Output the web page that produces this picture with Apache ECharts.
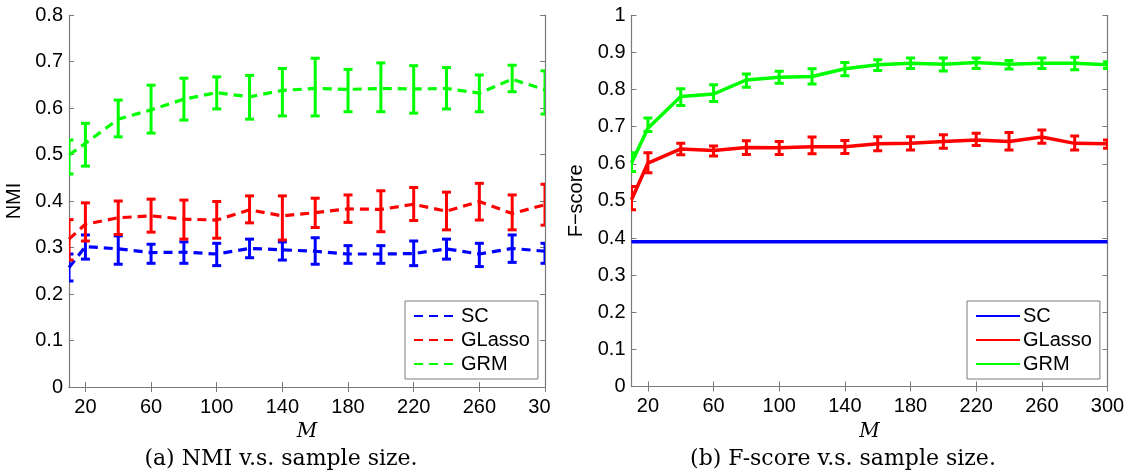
<!DOCTYPE html>
<html><head><meta charset="utf-8">
<script src="https://cdn.jsdelivr.net/npm/echarts@6/dist/echarts.min.js"></script>
<style>
html,body{margin:0;padding:0;background:#fff;}
#wrap{position:relative;width:1125px;height:474px;overflow:hidden;background:#fff;}
#left{position:absolute;left:0;top:0;width:551px;height:474px;}
#right{position:absolute;left:560px;top:0;width:565px;height:474px;}
</style></head><body>
<div id="wrap"><div id="left"></div><div id="right"></div></div>
<script>
// ---- data ----
const M_VALUES = [10, 20, 40, 60, 80, 100, 120, 140, 160, 180, 200, 220, 240, 260, 280, 300];
const X_TICKS = [20, 60, 100, 140, 180, 220, 260, 300];
const SERIES_NAMES = ['SC', 'GLasso', 'GRM'];

// (a) NMI
const NMI_SC_MEAN  = [0.257, 0.302, 0.297, 0.289, 0.290, 0.286, 0.298, 0.295, 0.292, 0.286, 0.286, 0.287, 0.297, 0.286, 0.298, 0.292];
const NMI_SC_LOW   = [0.228, 0.275, 0.264, 0.266, 0.266, 0.261, 0.278, 0.273, 0.264, 0.266, 0.266, 0.261, 0.275, 0.259, 0.268, 0.266];
const NMI_SC_HIGH  = [0.286, 0.327, 0.325, 0.307, 0.312, 0.309, 0.318, 0.312, 0.321, 0.304, 0.304, 0.314, 0.318, 0.309, 0.327, 0.309];
const NMI_GL_MEAN  = [0.318, 0.350, 0.364, 0.368, 0.361, 0.359, 0.381, 0.368, 0.375, 0.383, 0.382, 0.393, 0.378, 0.399, 0.373, 0.392];
const NMI_GL_LOW   = [0.273, 0.314, 0.328, 0.333, 0.318, 0.320, 0.353, 0.316, 0.343, 0.354, 0.334, 0.358, 0.338, 0.359, 0.338, 0.348];
const NMI_GL_HIGH  = [0.360, 0.396, 0.400, 0.404, 0.402, 0.399, 0.411, 0.411, 0.406, 0.413, 0.422, 0.429, 0.419, 0.438, 0.413, 0.436];
const NMI_GRM_MEAN = [0.499, 0.524, 0.576, 0.596, 0.619, 0.633, 0.624, 0.638, 0.642, 0.640, 0.642, 0.641, 0.642, 0.632, 0.662, 0.639];
const NMI_GRM_LOW  = [0.458, 0.475, 0.538, 0.546, 0.574, 0.598, 0.576, 0.583, 0.583, 0.592, 0.592, 0.589, 0.598, 0.592, 0.635, 0.587];
const NMI_GRM_HIGH = [0.531, 0.567, 0.617, 0.649, 0.664, 0.667, 0.670, 0.685, 0.707, 0.683, 0.697, 0.691, 0.687, 0.671, 0.692, 0.680];

// (b) F-score
const F_SC_MEAN   = [0.39, 0.39, 0.39, 0.39, 0.39, 0.39, 0.39, 0.39, 0.39, 0.39, 0.39, 0.39, 0.39, 0.39, 0.39, 0.39];
const F_GL_MEAN   = [0.503, 0.602, 0.640, 0.636, 0.644, 0.643, 0.646, 0.646, 0.654, 0.655, 0.660, 0.664, 0.660, 0.672, 0.655, 0.654];
const F_GL_LOW    = [0.476, 0.576, 0.624, 0.621, 0.625, 0.625, 0.627, 0.628, 0.635, 0.637, 0.642, 0.649, 0.637, 0.655, 0.637, 0.642];
const F_GL_HIGH   = [0.539, 0.630, 0.655, 0.648, 0.662, 0.660, 0.672, 0.663, 0.673, 0.673, 0.678, 0.682, 0.684, 0.691, 0.675, 0.664];
const F_GRM_MEAN  = [0.602, 0.696, 0.781, 0.788, 0.826, 0.833, 0.835, 0.856, 0.867, 0.871, 0.868, 0.873, 0.868, 0.871, 0.871, 0.867];
const F_GRM_LOW   = [0.579, 0.687, 0.757, 0.768, 0.806, 0.817, 0.815, 0.837, 0.851, 0.857, 0.850, 0.857, 0.855, 0.857, 0.853, 0.857];
const F_GRM_HIGH  = [0.630, 0.723, 0.802, 0.813, 0.842, 0.849, 0.856, 0.873, 0.880, 0.885, 0.885, 0.885, 0.878, 0.885, 0.887, 0.875];

const COLORS = ['#0000ff', '#ff0000', '#00ff00'];
const AXIS_GRAY = '#7a7a7a';
const SANS = "'Liberation Sans', Arial, sans-serif";
const SERIF = "'DejaVu Serif', serif";

function pairs(ys) { return M_VALUES.map((x, i) => [x, ys[i]]); }
function triples(lo, hi) { return M_VALUES.map((x, i) => [x, lo[i], hi[i]]); }

function errRender(capHalf, lw) {
  return function (params, api) {
    const x = api.value(0), lo = api.value(1), hi = api.value(2);
    const a = api.coord([x, lo]), b = api.coord([x, hi]);
    const style = { stroke: api.visual('color'), lineWidth: lw, fill: null };
    return {
      type: 'group',
      children: [
        { type: 'line', shape: { x1: a[0], y1: a[1], x2: b[0], y2: b[1] }, style: style },
        { type: 'line', shape: { x1: a[0] - capHalf, y1: a[1], x2: a[0] + capHalf, y2: a[1] }, style: style },
        { type: 'line', shape: { x1: b[0] - capHalf, y1: b[1], x2: b[0] + capHalf, y2: b[1] }, style: style }
      ]
    };
  };
}

function axes(yMax, yName, yNameGap) {
  const tick = { show: true, inside: true, length: 5, lineStyle: { color: AXIS_GRAY, width: 1 } };
  const line = { show: true, lineStyle: { color: AXIS_GRAY, width: 1.2 } };
  return {
    xAxis: [
      { type: 'value', min: 10, max: 300, position: 'bottom',
        axisLine: line, splitLine: { show: false },
        axisTick: Object.assign({ customValues: X_TICKS }, tick),
        axisLabel: { customValues: X_TICKS, fontSize: 20, fontFamily: SANS, color: '#000', margin: 10 },
        name: 'M', nameLocation: 'middle', nameGap: 26,
        nameTextStyle: { fontSize: 20, fontStyle: 'italic', fontFamily: SERIF, color: '#000' } },
      { type: 'value', min: 10, max: 300, position: 'top',
        axisLine: line, splitLine: { show: false },
        axisTick: Object.assign({ customValues: X_TICKS }, tick),
        axisLabel: { show: false } }
    ],
    yAxis: [
      { type: 'value', min: 0, max: yMax, interval: 0.1, position: 'left',
        axisLine: line, splitLine: { show: false }, axisTick: tick,
        axisLabel: { fontSize: 20, fontFamily: SANS, color: '#000', margin: 6 },
        name: yName, nameLocation: 'middle', nameGap: yNameGap, nameRotate: 90,
        nameTextStyle: { fontSize: 20, fontFamily: SANS, color: '#000' } },
      { type: 'value', min: 0, max: yMax, interval: 0.1, position: 'right',
        axisLine: line, splitLine: { show: false }, axisTick: tick,
        axisLabel: { show: false } }
    ]
  };
}

function legend(left) {
  return {
    data: SERIES_NAMES, orient: 'vertical', left: left, top: 301,
    itemWidth: 44, itemHeight: 14, itemGap: 4,
    padding: [5, 8, 5, 8], borderColor: AXIS_GRAY, borderWidth: 1, backgroundColor: '#fff',
    itemStyle: { opacity: 0 },
    textStyle: { fontSize: 20, fontFamily: SANS, color: '#000', padding: [0, 0, 0, -2] },
    selectedMode: false
  };
}

function caption(x, text) {
  return { type: 'text', x: x, y: 448, style: { text: text, fontSize: 22, fontFamily: SERIF, fill: '#000', align: 'center' } };
}

// ---- left chart (a) ----
const leftChart = echarts.init(document.getElementById('left'), null, { renderer: 'canvas' });
const la = axes(0.8, 'NMI', 40);
const dashed = [9, 6];
leftChart.setOption({
  animation: false,
  grid: { left: 69, top: 15, width: 476, height: 372, containLabel: false, outerBoundsMode: 'none' },
  xAxis: la.xAxis, yAxis: la.yAxis,
  legend: legend(405),
  graphic: [ caption(281, '(a) NMI v.s. sample size.') ],
  series: [
    { name: 'SC', type: 'line', data: pairs(NMI_SC_MEAN), symbol: 'none', color: COLORS[0], lineStyle: { width: 3.2, type: dashed, color: COLORS[0] }, z: 2 },
    { name: 'SC-err', type: 'custom', data: triples(NMI_SC_LOW, NMI_SC_HIGH), color: COLORS[0], renderItem: errRender(4.5, 3), encode: { x: 0, y: [1, 2] }, clip: true, z: 2 },
    { name: 'GLasso', type: 'line', data: pairs(NMI_GL_MEAN), symbol: 'none', color: COLORS[1], lineStyle: { width: 3.2, type: dashed, color: COLORS[1] }, z: 3 },
    { name: 'GLasso-err', type: 'custom', data: triples(NMI_GL_LOW, NMI_GL_HIGH), color: COLORS[1], renderItem: errRender(4.5, 3), encode: { x: 0, y: [1, 2] }, clip: true, z: 3 },
    { name: 'GRM', type: 'line', data: pairs(NMI_GRM_MEAN), symbol: 'none', color: COLORS[2], lineStyle: { width: 3.2, type: dashed, color: COLORS[2] }, z: 4 },
    { name: 'GRM-err', type: 'custom', data: triples(NMI_GRM_LOW, NMI_GRM_HIGH), color: COLORS[2], renderItem: errRender(4.5, 3), encode: { x: 0, y: [1, 2] }, clip: true, z: 4 }
  ]
});

// ---- right chart (b) ----
const rightChart = echarts.init(document.getElementById('right'), null, { renderer: 'canvas' });
const ra = axes(1, 'F\u2212score', 43);
rightChart.setOption({
  animation: false,
  grid: { left: 71.5, top: 15.3, width: 476, height: 371.2, containLabel: false, outerBoundsMode: 'none' },
  xAxis: ra.xAxis, yAxis: ra.yAxis,
  legend: legend(407),
  graphic: [ caption(283, '(b) F-score v.s. sample size.') ],
  series: [
    { name: 'SC', type: 'line', data: pairs(F_SC_MEAN), symbol: 'none', color: COLORS[0], lineStyle: { width: 3.5, color: COLORS[0] }, z: 2 },
    { name: 'GLasso', type: 'line', data: pairs(F_GL_MEAN), symbol: 'none', color: COLORS[1], lineStyle: { width: 3.5, color: COLORS[1] }, z: 3 },
    { name: 'GLasso-err', type: 'custom', data: triples(F_GL_LOW, F_GL_HIGH), color: COLORS[1], renderItem: errRender(4.5, 3), encode: { x: 0, y: [1, 2] }, clip: true, z: 3 },
    { name: 'GRM', type: 'line', data: pairs(F_GRM_MEAN), symbol: 'none', color: COLORS[2], lineStyle: { width: 3.5, color: COLORS[2] }, z: 4 },
    { name: 'GRM-err', type: 'custom', data: triples(F_GRM_LOW, F_GRM_HIGH), color: COLORS[2], renderItem: errRender(4.5, 3), encode: { x: 0, y: [1, 2] }, clip: true, z: 4 }
  ]
});
</script>
</body></html>
